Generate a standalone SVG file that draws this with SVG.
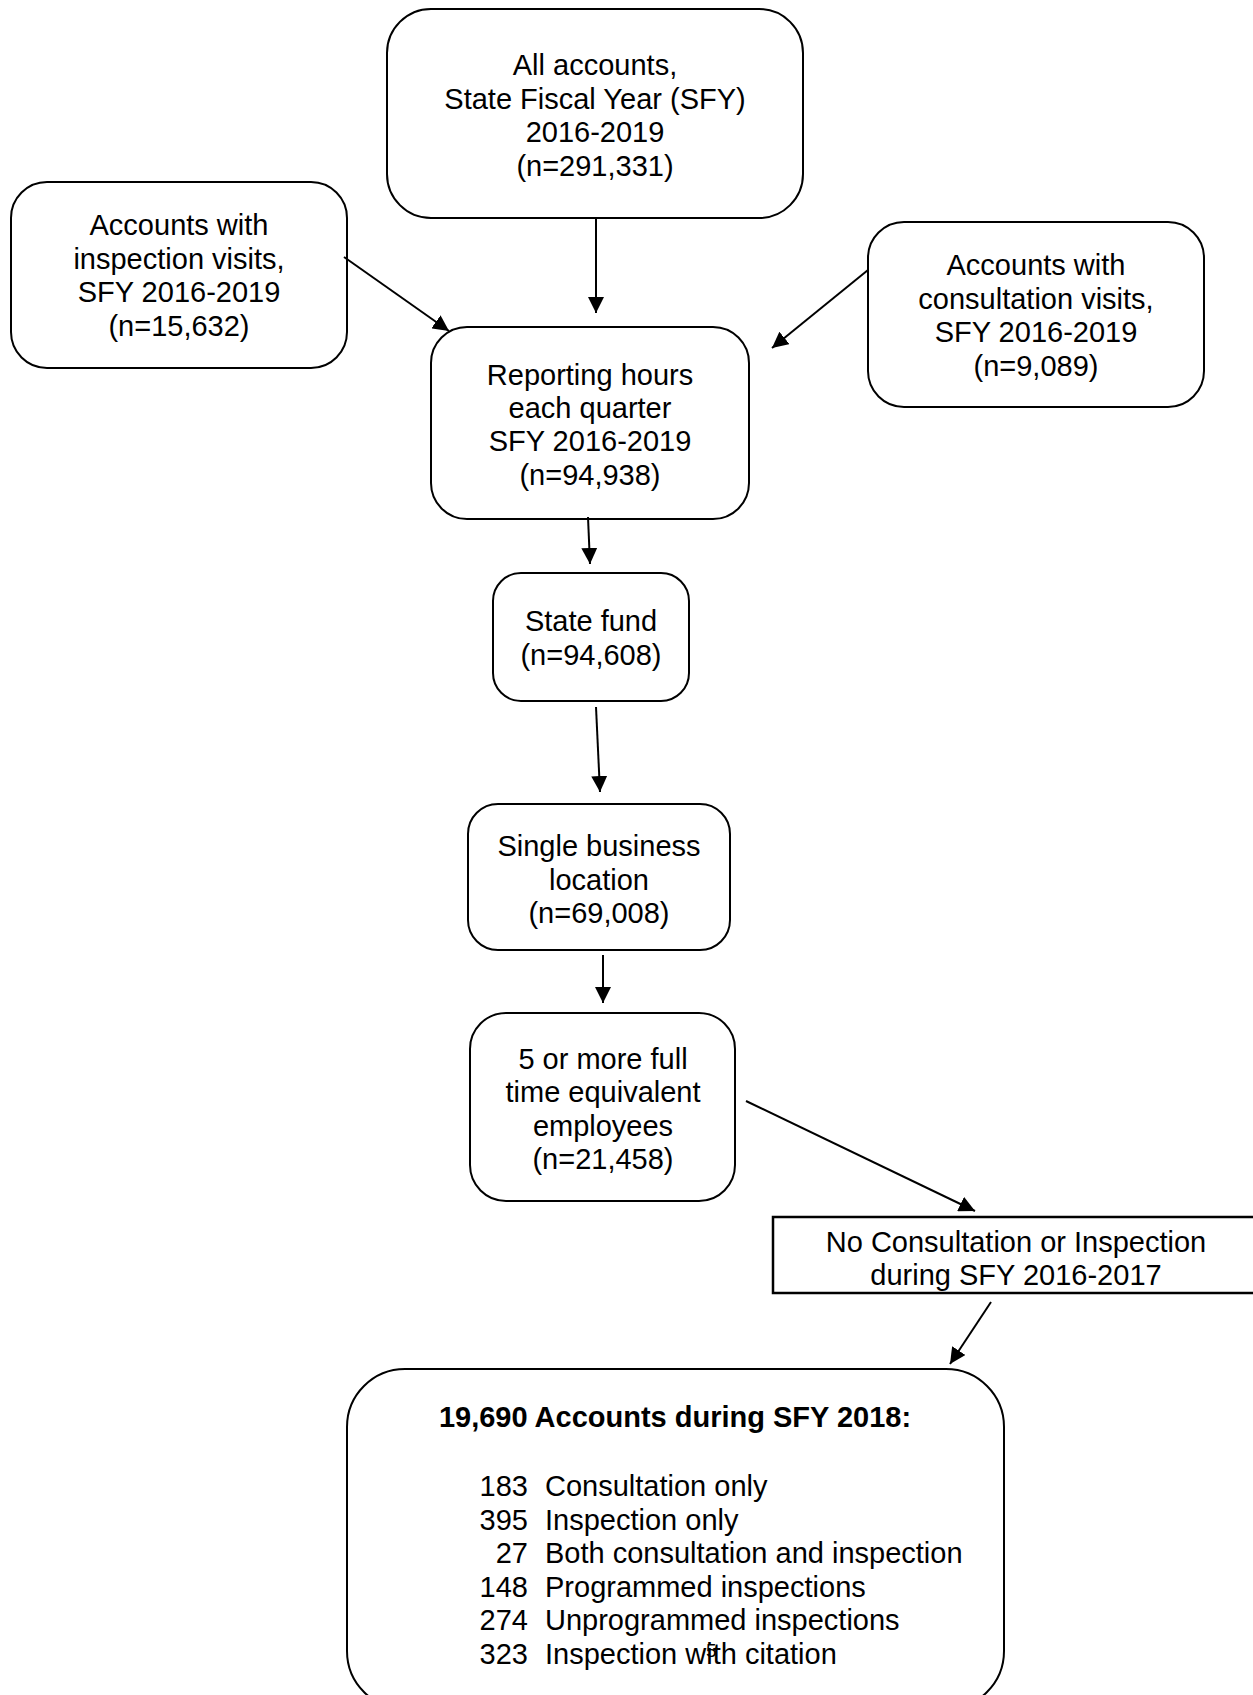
<svg xmlns="http://www.w3.org/2000/svg" width="1253" height="1695" viewBox="0 0 1253 1695">
<style>
.box{fill:#fff;stroke:#000;stroke-width:2}
.t{font-family:"Liberation Sans",Arial,sans-serif;font-size:29px;fill:#000;text-anchor:middle}
.l{font-family:"Liberation Sans",Arial,sans-serif;font-size:29px;fill:#000}
.b{font-weight:bold}
.c{stroke:#000;stroke-width:2;fill:none;marker-end:url(#ah)}
</style>
<defs>
<marker id="ah" viewBox="0 0 16 16" refX="16" refY="8" markerWidth="16" markerHeight="16" markerUnits="userSpaceOnUse" orient="auto">
<path d="M0,0 L16,8 L0,16 z" fill="#000"/>
</marker>
</defs>
<rect width="1253" height="1695" fill="#fff"/>
<g id="n-all">
<rect class="box" x="387" y="9" width="416" height="209" rx="44"/>
<text class="t" x="595" y="75">All accounts,</text>
<text class="t" x="595" y="108.5">State Fiscal Year (SFY)</text>
<text class="t" x="595" y="142">2016-2019</text>
<text class="t" x="595" y="175.5">(n=291,331)</text>
</g>
<g id="n-inspection">
<rect class="box" x="11" y="182" width="336" height="186" rx="36"/>
<text class="t" x="179" y="235">Accounts with</text>
<text class="t" x="179" y="268.5">inspection visits,</text>
<text class="t" x="179" y="302">SFY 2016-2019</text>
<text class="t" x="179" y="335.5">(n=15,632)</text>
</g>
<g id="n-consultation">
<rect class="box" x="868" y="222" width="336" height="185" rx="36"/>
<text class="t" x="1036" y="275">Accounts with</text>
<text class="t" x="1036" y="308.5">consultation visits,</text>
<text class="t" x="1036" y="342">SFY 2016-2019</text>
<text class="t" x="1036" y="375.5">(n=9,089)</text>
</g>
<g id="n-reporting">
<rect class="box" x="431" y="327" width="318" height="192" rx="36"/>
<text class="t" x="590" y="384.5">Reporting hours</text>
<text class="t" x="590" y="418">each quarter</text>
<text class="t" x="590" y="451">SFY 2016-2019</text>
<text class="t" x="590" y="484.5">(n=94,938)</text>
</g>
<g id="n-statefund">
<rect class="box" x="493" y="573" width="196" height="128" rx="28"/>
<text class="t" x="591" y="631">State fund</text>
<text class="t" x="591" y="664.5">(n=94,608)</text>
</g>
<g id="n-single">
<rect class="box" x="468" y="804" width="262" height="146" rx="30"/>
<text class="t" x="599" y="856">Single business</text>
<text class="t" x="599" y="889.5">location</text>
<text class="t" x="599" y="923">(n=69,008)</text>
</g>
<g id="n-fte">
<rect class="box" x="470" y="1013" width="265" height="188" rx="36"/>
<text class="t" x="603" y="1068.5">5 or more full</text>
<text class="t" x="603" y="1102"> time equivalent</text>
<text class="t" x="603" y="1135.5">employees</text>
<text class="t" x="603" y="1169">(n=21,458)</text>
</g>
<g id="n-noconsult">
<rect x="773" y="1217" width="500" height="76" fill="#fff" stroke="#000" stroke-width="2.5"/>
<text class="t" x="1016" y="1251.5">No Consultation or Inspection</text>
<text class="t" x="1016" y="1285">during SFY 2016-2017</text>
</g>
<g id="n-result">
<rect class="box" x="347" y="1369" width="657" height="340" rx="58"/>
<text class="t b" x="675" y="1427">19,690 Accounts during SFY 2018:</text>
<text class="l" x="528" y="1496" text-anchor="end">183</text>
<text class="l" x="545" y="1496">Consultation only</text>
<text class="l" x="528" y="1529.5" text-anchor="end">395</text>
<text class="l" x="545" y="1529.5">Inspection only</text>
<text class="l" x="528" y="1563" text-anchor="end">27</text>
<text class="l" x="545" y="1563">Both consultation and inspection</text>
<text class="l" x="528" y="1596.5" text-anchor="end">148</text>
<text class="l" x="545" y="1596.5">Programmed inspections</text>
<text class="l" x="528" y="1630" text-anchor="end">274</text>
<text class="l" x="545" y="1630">Unprogrammed inspections</text>
<text class="l" x="528" y="1663.5" text-anchor="end">323</text>
<text class="l" x="545" y="1663.5">Inspection with citation</text>
<text class="l" x="706" y="1657" style="font-size:19px">5</text>
</g>
<g id="connectors">
<line class="c" x1="596" y1="218" x2="596" y2="313"/>
<line class="c" x1="344" y1="257" x2="449" y2="331"/>
<line class="c" x1="868" y1="270" x2="772" y2="348"/>
<line class="c" x1="588" y1="517" x2="590" y2="564"/>
<line class="c" x1="596" y1="707" x2="600" y2="792"/>
<line class="c" x1="603" y1="955" x2="603" y2="1003"/>
<line class="c" x1="746" y1="1101" x2="975" y2="1211"/>
<line class="c" x1="991" y1="1302" x2="950" y2="1364"/>
</g>
</svg>
